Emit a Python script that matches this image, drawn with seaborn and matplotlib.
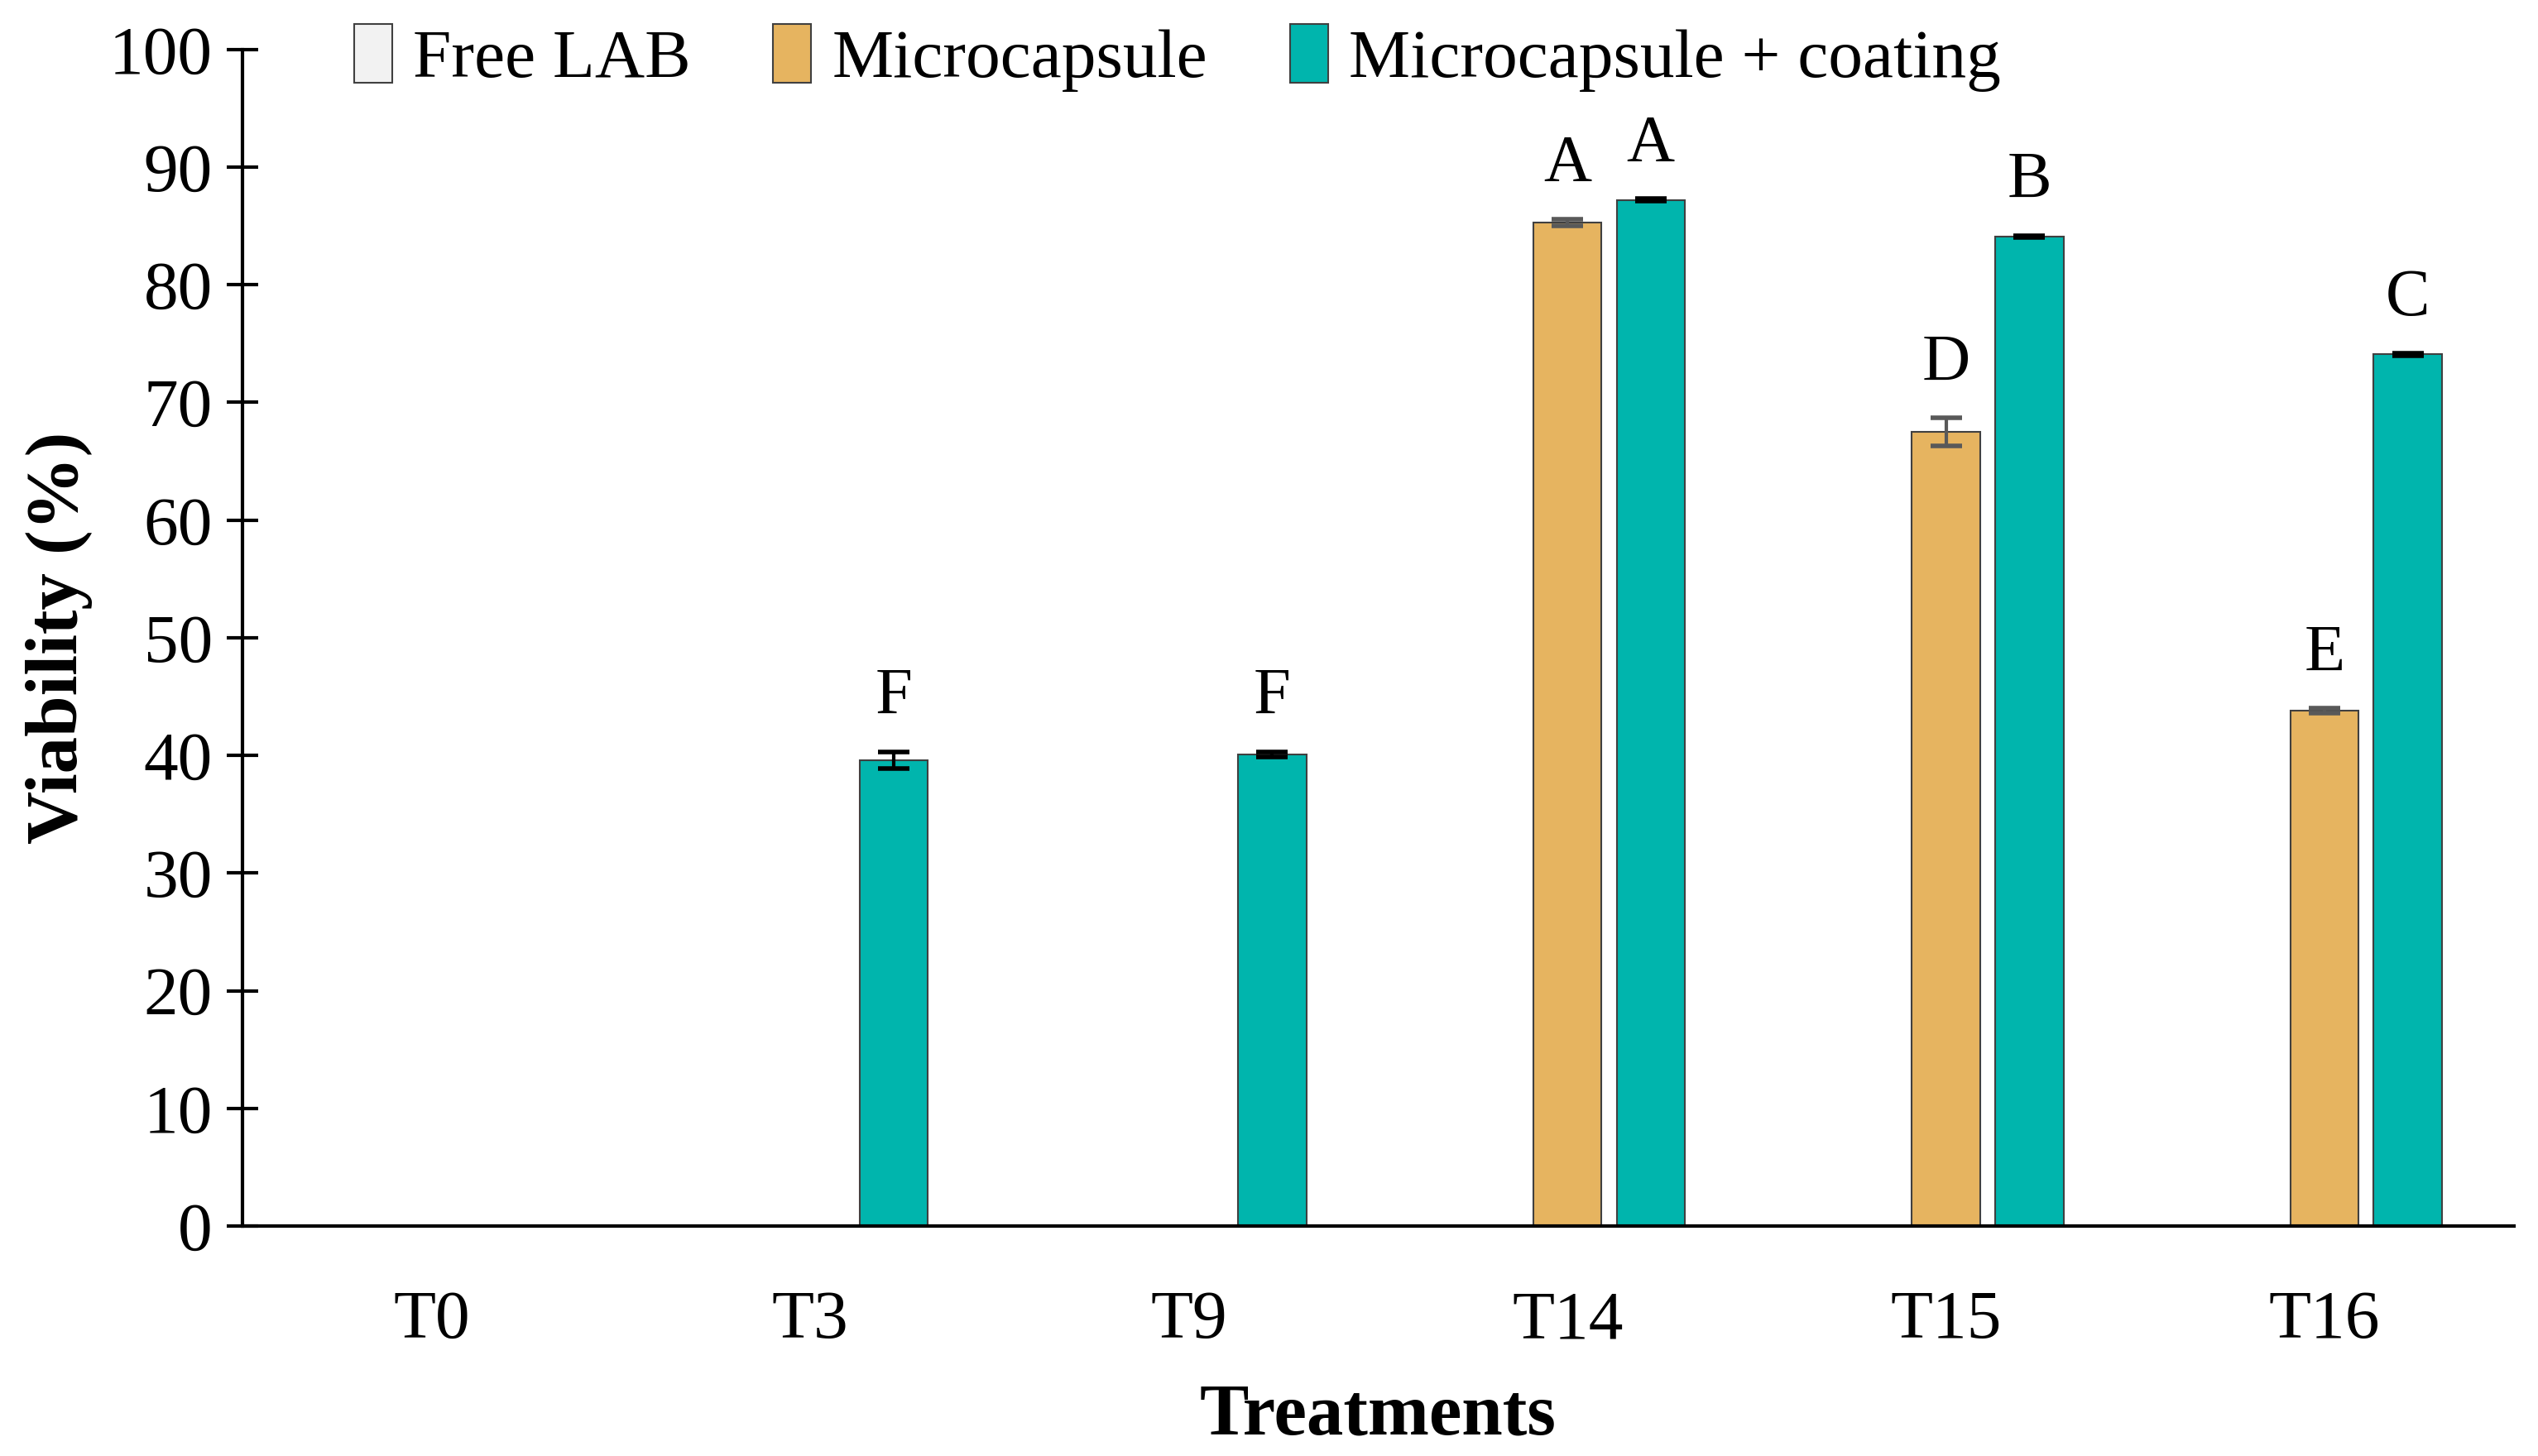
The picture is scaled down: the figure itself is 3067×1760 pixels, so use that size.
import numpy as np
import pandas as pd
import matplotlib
matplotlib.use("Agg")
import matplotlib.pyplot as plt
import seaborn as sns

treatments = ["T0", "T3", "T9", "T14", "T15", "T16"]
groups = ["Free LAB", "Microcapsule", "Microcapsule + coating"]

free_lab = [0, 0, 0, 0, 0, 0]
microcapsule = [0, 0, 0, 85.3, 67.5, 43.8]
coated = [0, 39.6, 40.1, 87.2, 84.1, 74.1]

free_lab_err = [0, 0, 0, 0, 0, 0]
microcapsule_err = [0, 0, 0, 0.3, 1.2, 0.2]
coated_err = [0, 0.7, 0.2, 0.1, 0.1, 0.1]

microcapsule_letters = ["", "", "", "A", "D", "E"]
coated_letters = ["", "F", "F", "A", "B", "C"]

colors = ["#F2F2F2", "#E6B460", "#00B5AD"]
err_colors = ["#595959", "#595959", "#000000"]

sns.set_theme(style="white")
plt.rcParams["font.family"] = ["Liberation Serif", "DejaVu Serif"]
plt.rcParams["text.color"] = "black"
plt.rcParams["xtick.color"] = "black"
plt.rcParams["ytick.color"] = "black"
plt.rcParams["axes.labelcolor"] = "black"

df = pd.DataFrame({
    "Treatment": treatments * 3,
    "Group": [groups[0]] * 6 + [groups[1]] * 6 + [groups[2]] * 6,
    "Viability": free_lab + microcapsule + coated,
})

fig = plt.figure(figsize=(30.67, 17.6), dpi=100)
ax = fig.add_axes([0.0955, 0.158, 0.895, 0.808])

sns.barplot(data=df, x="Treatment", y="Viability", hue="Group", order=treatments,
            hue_order=groups, palette=colors, saturation=1, width=0.66, gap=0.18,
            errorbar=None, edgecolor="#404040", linewidth=1.5, ax=ax)

# error bars and letters on top of the seaborn bars
errs = [free_lab_err, microcapsule_err, coated_err]
letters = [[""] * 6, microcapsule_letters, coated_letters]
bar_groups = list(ax.containers)
for g, cont in enumerate(bar_groups):
    for i, bar in enumerate(cont.patches):
        h = bar.get_height()
        if h <= 0:
            continue
        xc = bar.get_x() + bar.get_width() / 2
        ax.errorbar(xc, h, yerr=errs[g][i], fmt="none", ecolor=err_colors[g],
                    elinewidth=3, capsize=14, capthick=4, zorder=5)
        if letters[g][i]:
            ax.text(xc, h + errs[g][i] + 2.0, letters[g][i], ha="center", va="bottom",
                    fontsize=58)

ax.set_ylim(0, 100)
ax.set_xlim(-0.5, 5.5)
ax.set_yticks(range(0, 101, 10))
ax.tick_params(axis="y", direction="inout", length=28, width=3, labelsize=60, pad=12, left=True)
ax.tick_params(axis="x", length=0, labelsize=60, pad=56)
for s in ["top", "right"]:
    ax.spines[s].set_visible(False)
for s in ["left", "bottom"]:
    ax.spines[s].set_color("black")
    ax.spines[s].set_linewidth(3)

ax.set_xlabel("Treatments", fontsize=64, fontweight="bold", labelpad=26)
ax.set_ylabel("Viability (%)", fontsize=64, fontweight="bold", labelpad=14)

ax.legend(loc="center left", bbox_to_anchor=(0.037, 0.993), ncol=3, frameon=False,
          fontsize=60, handlelength=0.55, handleheight=0.95, handletextpad=0.3,
          columnspacing=1.2, borderaxespad=0)

fig.savefig("out.png", dpi=100, facecolor="white")
